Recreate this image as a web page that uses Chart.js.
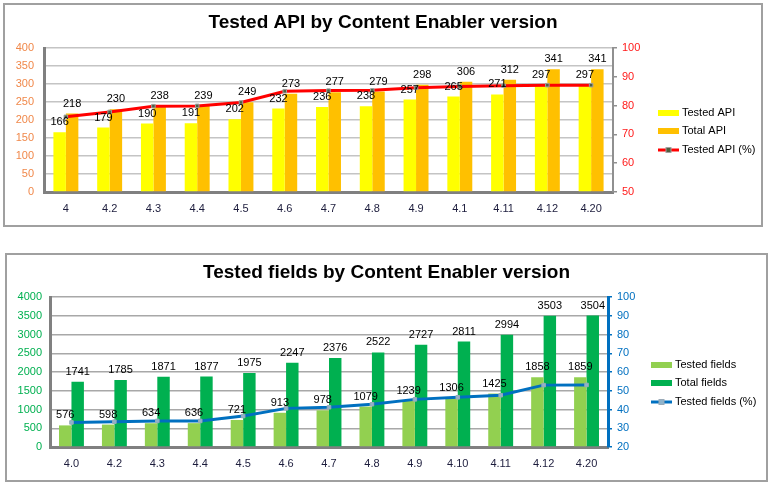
<!DOCTYPE html>
<html>
<head>
<meta charset="utf-8">
<script src="https://cdn.jsdelivr.net/npm/chart.js@4/dist/chart.umd.min.js"></script>
<style>
  html, body { margin: 0; padding: 0; background: #ffffff; }
  .box { position: absolute; border: 2px solid #a0a0a0; background: #fff; }
  #box1 { left: 3px; top: 3px; width: 756px; height: 220px; }
  #box2 { left: 5px; top: 253px; width: 759px; height: 225px; }
  canvas { display: block; }
</style>
</head>
<body>
<div class="box" id="box1"><canvas id="c1" width="756" height="220"></canvas></div>
<div class="box" id="box2"><canvas id="c2" width="759" height="225"></canvas></div>
<script>
// ---- data ----
const apiVersions = ['4','4.2','4.3','4.4','4.5','4.6','4.7','4.8','4.9','4.1','4.11','4.12','4.20'];
const testedApi = [166,179,190,191,202,232,236,238,257,265,271,297,297];
const totalApi = [218,230,238,239,249,273,277,279,298,306,312,341,341];
const testedApiPct = [76.1,77.8,79.8,79.9,81.1,85.0,85.2,85.3,86.2,86.6,86.9,87.1,87.1];
const apiLeftTicks = [0,50,100,150,200,250,300,350,400];
const apiRightTicks = [50,55,60,65,70,75,80,85,90,95,100];

const fieldVersions = ['4.0','4.2','4.3','4.4','4.5','4.6','4.7','4.8','4.9','4.10','4.11','4.12','4.20'];
const testedFields = [576,598,634,636,721,913,978,1079,1239,1306,1425,1858,1859];
const totalFields = [1741,1785,1871,1877,1975,2247,2376,2522,2727,2811,2994,3503,3504];
const testedFieldsPct = [33.1,33.5,33.9,33.9,36.5,40.6,41.2,42.8,45.4,46.5,47.6,53.0,53.1];
const fieldLeftTicks = [0,500,1000,1500,2000,2500,3000,3500,4000];
const fieldRightTicks = [20,30,40,50,60,70,80,90,100];

const FONT = "'Liberation Sans', Arial, sans-serif";

const valueLabels = {
  id: 'valueLabels',
  afterDatasetsDraw(chart) {
    const ctx = chart.ctx;
    ctx.save();
    ctx.font = '11px ' + FONT;
    ctx.fillStyle = '#000';
    ctx.textAlign = 'center';
    ctx.textBaseline = 'middle';
    chart.data.datasets.forEach((ds, i) => {
      if (ds.type === 'line') return;
      chart.getDatasetMeta(i).data.forEach((el, j) => {
        ctx.fillText(String(ds.data[j]), el.x, el.y - 10);
      });
    });
    ctx.restore();
  }
};

const sideLegend = {
  id: 'sideLegend',
  afterDraw(chart, args, opts) {
    const ctx = chart.ctx;
    ctx.save();
    ctx.font = '11px ' + FONT;
    ctx.textBaseline = 'middle';
    ctx.textAlign = 'left';
    chart.data.datasets.forEach((ds, i) => {
      const y = opts.rows[i];
      const x = opts.x;
      if (ds.type === 'line') {
        ctx.strokeStyle = ds.borderColor;
        ctx.lineWidth = 3;
        ctx.beginPath();
        ctx.moveTo(x, y); ctx.lineTo(x + 21, y);
        ctx.stroke();
        ctx.fillStyle = ds.pointBackgroundColor;
        ctx.strokeStyle = ds.pointBorderColor;
        ctx.lineWidth = 1;
        ctx.fillRect(x + 8, y - 2.5, 5, 5);
        ctx.strokeRect(x + 8, y - 2.5, 5, 5);
      } else {
        ctx.fillStyle = ds.backgroundColor;
        ctx.fillRect(x, y - 3, 21, 6);
      }
      ctx.fillStyle = '#000';
      ctx.fillText(ds.label, x + 24, y);
    });
    ctx.restore();
  }
};

function makeChart(id, cfg) {
  return new Chart(document.getElementById(id), {
    type: 'bar',
    data: {
      labels: cfg.labels,
      datasets: [
        { label: cfg.names[0], data: cfg.tested, backgroundColor: cfg.colors[0], yAxisID: 'y', order: 2,
          categoryPercentage: cfg.catPct, barPercentage: 1 },
        { label: cfg.names[1], data: cfg.total, backgroundColor: cfg.colors[1], yAxisID: 'y', order: 2,
          categoryPercentage: cfg.catPct, barPercentage: 1 },
        { label: cfg.names[2], type: 'line', data: cfg.pct, yAxisID: 'y1', order: 0,
          borderColor: cfg.lineColor, borderWidth: 3, tension: 0,
          pointStyle: 'rect', pointRadius: 2.5, pointBorderWidth: 1,
          pointBackgroundColor: cfg.markerFill, pointBorderColor: cfg.markerBorder }
      ]
    },
    options: {
      responsive: false,
      animation: false,
      devicePixelRatio: 1,
      layout: { padding: 0 },
      plugins: {
        legend: { display: false },
        tooltip: { enabled: false },
        title: {
          display: true, text: cfg.title, color: '#000',
          font: { family: FONT, size: 19, weight: 'bold', lineHeight: 1.2 },
          padding: cfg.titlePad
        },
        sideLegend: cfg.legend
      },
      scales: {
        x: {
          grid: { display: false, drawTicks: false },
          border: { display: true, color: '#808080', width: 3 },
          ticks: { color: '#1c1c3c', font: { family: FONT, size: 11 }, padding: 10 },
          afterFit(s) { s.height = cfg.xHeight; }
        },
        y: {
          position: 'left', min: cfg.leftTicks[0], max: cfg.leftTicks[cfg.leftTicks.length - 1],
          afterBuildTicks(s) { s.ticks = cfg.leftTicks.map(v => ({ value: v })); },
          grid: { color: cfg.gridColor, lineWidth: 1.5, drawTicks: false },
          border: { display: true, color: '#808080', width: 3 },
          ticks: { color: cfg.leftColor, font: { family: FONT, size: 11 }, padding: cfg.leftPad,
                   callback: v => String(v) },
          afterFit(s) { s.width = cfg.leftWidth; }
        },
        y1: {
          position: 'right', min: cfg.rightTicks[0], max: cfg.rightTicks[cfg.rightTicks.length - 1],
          afterBuildTicks(s) { s.ticks = cfg.rightTicks.map(v => ({ value: v })); },
          grid: { drawOnChartArea: false, drawTicks: true, tickLength: 4, color: cfg.rightAxisColor, lineWidth: 1.5 },
          border: { display: true, color: cfg.rightAxisColor, width: cfg.rightAxisWidth },
          ticks: { color: cfg.rightColor, font: { family: FONT, size: 11 }, padding: 5,
                   callback: v => String(v) },
          afterFit(s) { s.width = cfg.rightWidth; }
        }
      }
    },
    plugins: [valueLabels, sideLegend]
  });
}

makeChart('c1', {
  labels: apiVersions, tested: testedApi, total: totalApi, pct: testedApiPct,
  names: ['Tested API', 'Total API', 'Tested API (%)'],
  colors: ['#ffff00', '#ffc000'], lineColor: '#ff0000',
  markerFill: '#4f5f3f', markerBorder: '#a0a0a0',
  title: 'Tested API by Content Enabler version',
  titlePad: { top: 6, bottom: 14.2 },
  catPct: 0.57, xHeight: 33, leftWidth: 39, rightWidth: 148, leftPad: 10,
  leftTicks: apiLeftTicks, rightTicks: apiRightTicks,
  gridColor: '#c4c4c4', leftColor: '#f0884a', rightColor: '#ff1a1a',
  rightAxisColor: '#909090', rightAxisWidth: 2,
  legend: { x: 653, rows: [108, 126, 145] }
});

makeChart('c2', {
  labels: fieldVersions, tested: testedFields, total: totalFields, pct: testedFieldsPct,
  names: ['Tested fields', 'Total fields', 'Tested fields (%)'],
  colors: ['#92d050', '#00b050'], lineColor: '#0070c0',
  markerFill: '#8fb4cc', markerBorder: '#9aaab8',
  title: 'Tested fields by Content Enabler version',
  titlePad: { top: 6.6, bottom: 12.6 },
  catPct: 0.58, xHeight: 33, leftWidth: 43, rightWidth: 158, leftPad: 8,
  leftTicks: fieldLeftTicks, rightTicks: fieldRightTicks,
  gridColor: '#a8a8a8', leftColor: '#00b050', rightColor: '#0070c0',
  rightAxisColor: '#0070c0', rightAxisWidth: 3,
  legend: { x: 644, rows: [110, 128, 147] }
});
</script>
</body>
</html>
